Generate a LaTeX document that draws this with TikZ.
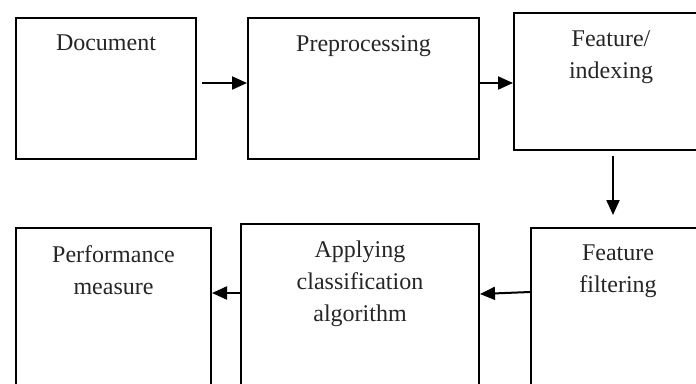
\documentclass[tikz,border=0pt]{standalone}
\usepackage{fontspec}
\setmainfont{Liberation Serif}
\usetikzlibrary{arrows.meta}
\tikzset{
  box/.style={draw, line width=2pt, anchor=north west, inner sep=0pt, minimum width=#1},
  boxtext/.style={anchor=north, inner sep=0pt, yshift=-18pt, align=center,
    font=\fontsize{24}{32}\selectfont, text=black!85},
  arr/.style={line width=2pt, -{Triangle[length=15pt,width=13pt]}}
}
\begin{document}
\begin{tikzpicture}[x=1pt,y=-1pt]
\useasboundingbox[fill=white] (0,0) rectangle (696,383);
\clip (0,0) rectangle (696,383);
\node[box=180pt, minimum height=141pt, label={[boxtext]north:Document}] (b1) at (15,17) {};
\node[box=231pt, minimum height=141pt, label={[boxtext]north:Preprocessing}] (b2) at (247,17) {};
\node[box=194pt, minimum height=137pt, label={[boxtext]north:Feature/\\indexing}] (b3) at (513,12) {};
\node[box=174pt, minimum height=180pt, label={[boxtext]north:Feature\\filtering}] (b4) at (530,227) {};
\node[box=238pt, minimum height=184pt, label={[boxtext]north:Applying\\classification\\algorithm}] (b5) at (240,223) {};
\node[box=195pt, minimum height=180pt, label={[boxtext]north:Performance\\measure}] (b6) at (15,227) {};
\draw[arr] ([xshift=5pt,yshift=-66pt]b1.north east) -- ([yshift=-66pt]b2.north west);
\draw[arr] ([yshift=-66pt]b2.north east) -- ([yshift=-71pt]b3.north west);
\draw[arr] ([xshift=2pt,yshift=-5pt]b3.south) -- ([xshift=-5pt,yshift=12pt]b4.north);
\draw[arr] ([yshift=-65pt]b4.north west) -- ([yshift=-71pt]b5.north east);
\draw[arr] ([yshift=-70pt]b5.north west) -- ([yshift=-66pt]b6.north east);
\end{tikzpicture}
\end{document}
